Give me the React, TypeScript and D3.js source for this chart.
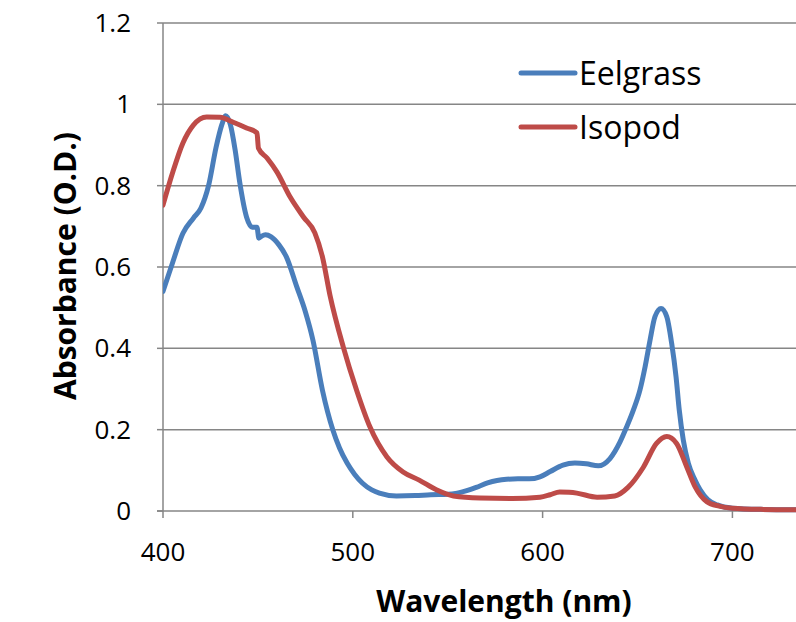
import React from 'react';
import * as d3 from 'd3';

// Eelgrass absorbance spectrum
const eelgrassWl = [400, 405, 410.5, 416, 420, 424, 428, 431, 433, 435.5, 438, 440.5, 444, 447, 449.5, 450.5, 452, 454, 457, 461, 465, 470.5, 475, 479, 484, 489.5, 493, 497, 501, 505, 510, 514, 523, 533, 541, 550, 555, 560, 565, 571, 576, 581, 587, 593, 598.6, 604, 610.7, 617, 623, 629.3, 635.5, 640.8, 644.3, 647.8, 651.3, 654, 656.6, 659.2, 662.4, 665.4, 668, 670.3, 672, 674.1, 676.8, 680.3, 683, 687, 692, 700, 715, 734];
const eelgrassAbs = [0.54, 0.61, 0.683, 0.72, 0.745, 0.8, 0.895, 0.95, 0.972, 0.95, 0.888, 0.806, 0.723, 0.698, 0.698, 0.671, 0.676, 0.679, 0.674, 0.655, 0.625, 0.551, 0.49, 0.42, 0.297, 0.199, 0.155, 0.118, 0.09, 0.069, 0.052, 0.044, 0.037, 0.038, 0.04, 0.041, 0.044, 0.05, 0.058, 0.069, 0.075, 0.078, 0.079, 0.079, 0.084, 0.097, 0.113, 0.118, 0.116, 0.111, 0.129, 0.17, 0.207, 0.248, 0.298, 0.355, 0.42, 0.478, 0.498, 0.478, 0.412, 0.33, 0.248, 0.175, 0.117, 0.076, 0.052, 0.028, 0.015, 0.007, 0.004, 0.003];

// Isopod absorbance spectrum
const isopodWl = [400, 405, 410.5, 416, 423, 430, 437, 444, 449.5, 450.3, 454.8, 460, 467, 474, 480, 484, 488, 495, 502, 509, 518, 526.5, 535, 544, 553, 567, 584, 598.6, 604, 609, 614, 618, 628.7, 638, 645, 653, 660, 665.4, 670.6, 675.9, 680.3, 686.5, 693, 700, 715, 734];
const isopodAbs = [0.752, 0.831, 0.905, 0.949, 0.969, 0.968, 0.956, 0.942, 0.93, 0.892, 0.868, 0.834, 0.772, 0.723, 0.684, 0.625, 0.53, 0.403, 0.297, 0.207, 0.133, 0.096, 0.076, 0.052, 0.037, 0.032, 0.031, 0.034, 0.04, 0.047, 0.046, 0.044, 0.034, 0.037, 0.058, 0.107, 0.166, 0.183, 0.166, 0.109, 0.06, 0.023, 0.012, 0.007, 0.004, 0.003];

const xTicks = [400, 500, 600, 700];
const yTicks = [0, 0.2, 0.4, 0.6, 0.8, 1, 1.2];

const seriesNames = ['Eelgrass', 'Isopod'];
const seriesColors = ['#4A7EBB', '#BE4B48'];

const W = 796;
const H = 622;
const FONT = '"Open Sans", "Noto Sans", sans-serif';

export default function App() {
  const left = 163;
  const right = 796;
  const top = 23;
  const bottom = 511;

  const x = d3.scaleLinear().domain([400, 733.5]).range([left, right]);
  const y = d3.scaleLinear().domain([0, 1.2]).range([bottom, top]);

  const line = d3
    .line<[number, number]>()
    .x((d) => x(d[0]))
    .y((d) => y(d[1]))
    .curve(d3.curveMonotoneX);

  const series = [
    d3.zip(eelgrassWl, eelgrassAbs) as [number, number][],
    d3.zip(isopodWl, isopodAbs) as [number, number][],
  ];

  const grid = '#868686';

  return (
    <div style={{ position: 'absolute', left: 0, top: 0 }}>
      <svg width={W} height={H} style={{ display: 'block', background: '#fff' }}>
        <defs>
          <clipPath id="plot">
            <rect x={left} y={top - 10} width={right - left} height={bottom - top + 20} />
          </clipPath>
        </defs>

        {/* horizontal gridlines */}
        {yTicks
          .filter((t) => t > 0)
          .map((t) => (
            <line key={t} x1={left} x2={right} y1={y(t)} y2={y(t)} stroke={grid} strokeWidth={1.5} />
          ))}

        {/* axes */}
        <line x1={left} x2={left} y1={top} y2={bottom} stroke={grid} strokeWidth={1.5} />
        <line x1={left - 6} x2={right} y1={bottom} y2={bottom} stroke={grid} strokeWidth={1.5} />
        {yTicks.map((t) => (
          <line key={'yt' + t} x1={left - 6} x2={left} y1={y(t)} y2={y(t)} stroke={grid} strokeWidth={1.5} />
        ))}
        {xTicks.map((t) => (
          <line key={'xt' + t} x1={x(t)} x2={x(t)} y1={bottom} y2={bottom + 7} stroke={grid} strokeWidth={1.5} />
        ))}

        {/* tick labels */}
        {yTicks.map((t) => (
          <text
            key={'yl' + t}
            x={131}
            y={y(t)}
            dy="0.35em"
            textAnchor="end"
            fontFamily={FONT}
            fontSize={26}
            fill="#000"
          >
            {d3.format('~g')(t)}
          </text>
        ))}
        {xTicks.map((t) => (
          <text
            key={'xl' + t}
            x={x(t)}
            y={561}
            textAnchor="middle"
            fontFamily={FONT}
            fontSize={26}
            fill="#000"
          >
            {t}
          </text>
        ))}

        {/* axis titles */}
        <text x={504} y={612} textAnchor="middle" fontFamily={FONT} fontWeight="bold" fontSize={30} fill="#000">
          Wavelength (nm)
        </text>
        <text
          transform={`translate(76, 266) rotate(-90)`}
          textAnchor="middle"
          fontFamily={FONT}
          fontWeight="bold"
          fontSize={30}
          fill="#000"
        >
          Absorbance (O.D.)
        </text>

        {/* series */}
        <g clipPath="url(#plot)">
          {series.map((s, i) => (
            <path
              key={seriesNames[i]}
              d={line(s) ?? ''}
              fill="none"
              stroke={seriesColors[i]}
              strokeWidth={5}
              strokeLinejoin="round"
              strokeLinecap="round"
            />
          ))}
        </g>

        {/* legend */}
        {seriesNames.map((name, i) => (
          <g key={'lg' + name} transform={`translate(0, ${73 + i * 54})`}>
            <rect x={507} y={-18} width={220} height={36} fill="#fff" />
            <line x1={521} x2={575} y1={0} y2={0} stroke={seriesColors[i]} strokeWidth={5} strokeLinecap="round" />
            <text x={579} y={0} dy="0.36em" fontFamily={FONT} fontSize={32} fill="#000">
              {name}
            </text>
          </g>
        ))}
      </svg>
    </div>
  );
}
